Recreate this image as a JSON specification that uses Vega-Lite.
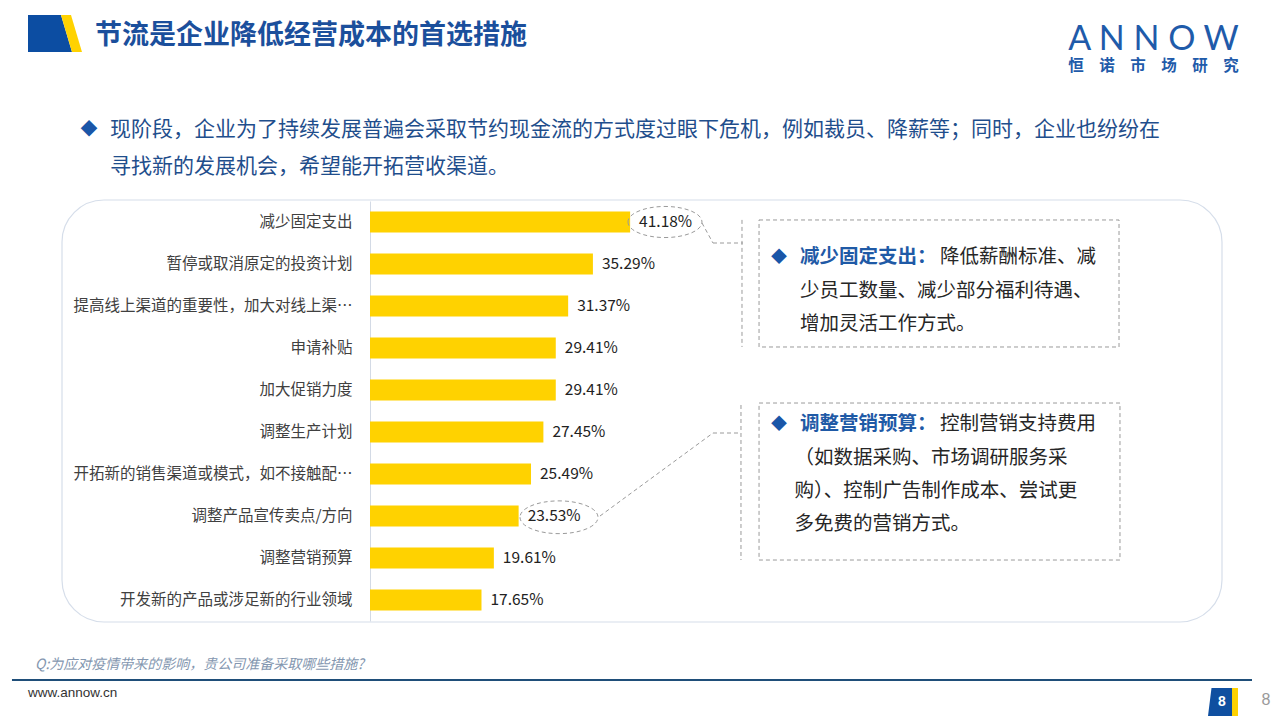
{
  "$schema": "https://vega.github.io/schema/vega-lite/v6.json",
  "width": 379,
  "height": 420,
  "autosize": {"type": "none"},
  "padding": {"left": 370, "top": 201, "right": 531, "bottom": 99},
  "background": "#ffffff",
  "config": {"view": {"stroke": null}, "font": "Noto Sans CJK SC"},
  "data": {
    "values": [
      {"measure": "减少固定支出", "pct": 0.4118},
      {"measure": "暂停或取消原定的投资计划", "pct": 0.3529},
      {"measure": "提高线上渠道的重要性，加大对线上渠…", "pct": 0.3137},
      {"measure": "申请补贴", "pct": 0.2941},
      {"measure": "加大促销力度", "pct": 0.2941},
      {"measure": "调整生产计划", "pct": 0.2745},
      {"measure": "开拓新的销售渠道或模式，如不接触配…", "pct": 0.2549},
      {"measure": "调整产品宣传卖点/方向", "pct": 0.2353},
      {"measure": "调整营销预算", "pct": 0.1961},
      {"measure": "开发新的产品或涉足新的行业领域", "pct": 0.1765}
    ]
  },
  "resolve": {"scale": {"y": "independent"}},
  "layer": [
    {
      "data": {"values": [{}]},
      "mark": {"type": "rect", "fill": "transparent", "stroke": "#d6deea", "strokeWidth": 1.2, "cornerRadius": 42},
      "encoding": {
        "x": {"datum": -0.4876, "type": "quantitative", "scale": {"domain": [0, 0.6], "nice": false, "zero": false}, "axis": null},
        "x2": {"datum": 1.3488},
        "y": {"datum": 0.476, "type": "quantitative", "scale": {"domain": [0.5, 10.5], "reverse": true, "nice": false, "zero": false}, "axis": null},
        "y2": {"datum": 10.524}
      }
    },
    {
      "mark": {"type": "bar", "color": "#FFD200"},
      "encoding": {
        "y": {
          "field": "measure", "type": "nominal", "sort": null,
          "scale": {"paddingInner": 0.5, "paddingOuter": 0.25},
          "axis": {"title": null, "ticks": false, "domain": true, "domainColor": "#d3dae5", "labelFontSize": 15.5, "labelColor": "#404040", "labelPadding": 18, "labelLimit": 340, "labelFont": "Noto Sans CJK SC", "grid": false}
        },
        "x": {"field": "pct", "type": "quantitative", "scale": {"domain": [0, 0.6], "nice": false, "zero": false}, "axis": null}
      }
    },
    {
      "mark": {"type": "text", "align": "left", "baseline": "middle", "dx": 9, "fontSize": 15.5, "color": "#222222", "font": "Noto Sans CJK SC"},
      "encoding": {
        "y": {"field": "measure", "type": "nominal", "sort": null, "scale": {"paddingInner": 0.5, "paddingOuter": 0.25}, "axis": null},
        "x": {"field": "pct", "type": "quantitative", "scale": {"domain": [0, 0.6], "nice": false, "zero": false}, "axis": null},
        "text": {"field": "pct", "type": "quantitative", "format": ".2%"}
      }
    },
    {
      "data": {"values": [{}]},
      "mark": {"type": "point", "shape": "M -1 0 A 1 0.42 0 1 0 1 0 A 1 0.42 0 1 0 -1 0 Z", "size": 5476, "filled": false, "stroke": "#9a9a9a", "strokeWidth": 1, "strokeDash": [4, 3], "opacity": 1},
      "encoding": {
        "x": {"datum": 0.4670, "type": "quantitative", "scale": {"domain": [0, 0.6], "nice": false, "zero": false}, "axis": null},
        "y": {"datum": 1.0, "type": "quantitative", "scale": {"domain": [0.5, 10.5], "reverse": true, "nice": false, "zero": false}, "axis": null}
      }
    },
    {
      "data": {"values": [{}]},
      "mark": {"type": "point", "shape": "M -1 0 A 1 0.42 0 1 0 1 0 A 1 0.42 0 1 0 -1 0 Z", "size": 6084, "filled": false, "stroke": "#9a9a9a", "strokeWidth": 1, "strokeDash": [4, 3], "opacity": 1},
      "encoding": {
        "x": {"datum": 0.2992, "type": "quantitative", "scale": {"domain": [0, 0.6], "nice": false, "zero": false}, "axis": null},
        "y": {"datum": 8.03, "type": "quantitative", "scale": {"domain": [0.5, 10.5], "reverse": true, "nice": false, "zero": false}, "axis": null}
      }
    },
    {
      "data": {"values": [{}]},
      "mark": {"type": "rule", "color": "#9a9a9a", "strokeWidth": 1, "strokeDash": [4, 3]},
      "encoding": {
        "x": {"datum": 0.5256, "type": "quantitative", "scale": {"domain": [0, 0.6], "nice": false, "zero": false}, "axis": null},
        "x2": {"datum": 0.5430},
        "y": {"datum": 1.024, "type": "quantitative", "scale": {"domain": [0.5, 10.5], "reverse": true, "nice": false, "zero": false}, "axis": null},
        "y2": {"datum": 1.500}
      }
    },
    {
      "data": {"values": [{}]},
      "mark": {"type": "rule", "color": "#9a9a9a", "strokeWidth": 1, "strokeDash": [4, 3]},
      "encoding": {
        "x": {"datum": 0.5430, "type": "quantitative", "scale": {"domain": [0, 0.6], "nice": false, "zero": false}, "axis": null},
        "x2": {"datum": 0.5905},
        "y": {"datum": 1.500, "type": "quantitative", "scale": {"domain": [0.5, 10.5], "reverse": true, "nice": false, "zero": false}, "axis": null},
        "y2": {"datum": 1.500}
      }
    },
    {
      "data": {"values": [{}]},
      "mark": {"type": "rule", "color": "#9a9a9a", "strokeWidth": 1, "strokeDash": [4, 3]},
      "encoding": {
        "x": {"datum": 0.3641, "type": "quantitative", "scale": {"domain": [0, 0.6], "nice": false, "zero": false}, "axis": null},
        "x2": {"datum": 0.5430},
        "y": {"datum": 8.0, "type": "quantitative", "scale": {"domain": [0.5, 10.5], "reverse": true, "nice": false, "zero": false}, "axis": null},
        "y2": {"datum": 6.024}
      }
    },
    {
      "data": {"values": [{}]},
      "mark": {"type": "rule", "color": "#9a9a9a", "strokeWidth": 1, "strokeDash": [4, 3]},
      "encoding": {
        "x": {"datum": 0.5430, "type": "quantitative", "scale": {"domain": [0, 0.6], "nice": false, "zero": false}, "axis": null},
        "x2": {"datum": 0.5873},
        "y": {"datum": 6.024, "type": "quantitative", "scale": {"domain": [0.5, 10.5], "reverse": true, "nice": false, "zero": false}, "axis": null},
        "y2": {"datum": 6.024}
      }
    },
    {
      "data": {"values": [{}]},
      "mark": {"type": "rule", "color": "#9a9a9a", "strokeWidth": 1, "strokeDash": [4, 3]},
      "encoding": {
        "x": {"datum": 0.5889, "type": "quantitative", "scale": {"domain": [0, 0.6], "nice": false, "zero": false}, "axis": null},
        "y": {"datum": 0.95, "type": "quantitative", "scale": {"domain": [0.5, 10.5], "reverse": true, "nice": false, "zero": false}, "axis": null},
        "y2": {"datum": 3.976}
      }
    },
    {
      "data": {"values": [{}]},
      "mark": {"type": "rule", "color": "#9a9a9a", "strokeWidth": 1, "strokeDash": [4, 3]},
      "encoding": {
        "x": {"datum": 0.5873, "type": "quantitative", "scale": {"domain": [0, 0.6], "nice": false, "zero": false}, "axis": null},
        "y": {"datum": 5.357, "type": "quantitative", "scale": {"domain": [0.5, 10.5], "reverse": true, "nice": false, "zero": false}, "axis": null},
        "y2": {"datum": 9.048}
      }
    },
    {
      "data": {"values": [{}]},
      "mark": {"type": "rect", "fill": "transparent", "stroke": "#9a9a9a", "strokeWidth": 1, "strokeDash": [4, 3]},
      "encoding": {
        "x": {"datum": 0.6159, "type": "quantitative", "scale": {"domain": [0, 0.6], "nice": false, "zero": false}, "axis": null},
        "x2": {"datum": 1.1858},
        "y": {"datum": 0.952, "type": "quantitative", "scale": {"domain": [0.5, 10.5], "reverse": true, "nice": false, "zero": false}, "axis": null},
        "y2": {"datum": 3.976}
      }
    },
    {
      "data": {"values": [{}]},
      "mark": {"type": "rect", "fill": "transparent", "stroke": "#9a9a9a", "strokeWidth": 1, "strokeDash": [4, 3]},
      "encoding": {
        "x": {"datum": 0.6159, "type": "quantitative", "scale": {"domain": [0, 0.6], "nice": false, "zero": false}, "axis": null},
        "x2": {"datum": 1.1873},
        "y": {"datum": 5.31, "type": "quantitative", "scale": {"domain": [0.5, 10.5], "reverse": true, "nice": false, "zero": false}, "axis": null},
        "y2": {"datum": 9.048}
      }
    },
    {
      "data": {"values": [{}]},
      "mark": {"type": "text", "align": "left", "baseline": "middle", "fontSize": 27, "fontWeight": "bold", "color": "#1B4F9C", "text": "节流是企业降低经营成本的首选措施"},
      "encoding": {
        "x": {"datum": -0.4354, "type": "quantitative", "scale": {"domain": [0, 0.6], "nice": false, "zero": false}, "axis": null},
        "y": {"datum": -3.429, "type": "quantitative", "scale": {"domain": [0.5, 10.5], "reverse": true, "nice": false, "zero": false}, "axis": null}
      }
    },
    {
      "data": {"values": [{}]},
      "mark": {"type": "text", "align": "center", "baseline": "middle", "fontSize": 17, "color": "#1A56A8", "text": "◆"},
      "encoding": {
        "x": {"datum": -0.4449, "type": "quantitative", "scale": {"domain": [0, 0.6], "nice": false, "zero": false}, "axis": null},
        "y": {"datum": -1.19, "type": "quantitative", "scale": {"domain": [0.5, 10.5], "reverse": true, "nice": false, "zero": false}, "axis": null}
      }
    },
    {
      "data": {"values": [{}]},
      "mark": {"type": "text", "align": "left", "baseline": "middle", "fontSize": 21, "lineHeight": 37, "color": "#1F4E8C", "text": ["现阶段，企业为了持续发展普遍会采取节约现金流的方式度过眼下危机，例如裁员、降薪等；同时，企业也纷纷在", "寻找新的发展机会，希望能开拓营收渠道。"]},
      "encoding": {
        "x": {"datum": -0.4116, "type": "quantitative", "scale": {"domain": [0, 0.6], "nice": false, "zero": false}, "axis": null},
        "y": {"datum": -1.19, "type": "quantitative", "scale": {"domain": [0.5, 10.5], "reverse": true, "nice": false, "zero": false}, "axis": null}
      }
    },
    {
      "data": {"values": [{}]},
      "mark": {"type": "text", "align": "center", "baseline": "middle", "fontSize": 16, "color": "#1A56A8", "text": "◆"},
      "encoding": {
        "x": {"datum": 0.6475, "type": "quantitative", "scale": {"domain": [0, 0.6], "nice": false, "zero": false}, "axis": null},
        "y": {"datum": 1.833, "type": "quantitative", "scale": {"domain": [0.5, 10.5], "reverse": true, "nice": false, "zero": false}, "axis": null}
      }
    },
    {
      "data": {"values": [{}]},
      "mark": {"type": "text", "align": "left", "baseline": "middle", "fontSize": 19.5, "fontWeight": "bold", "color": "#1F5AA6", "text": "减少固定支出："},
      "encoding": {
        "x": {"datum": 0.6807, "type": "quantitative", "scale": {"domain": [0, 0.6], "nice": false, "zero": false}, "axis": null},
        "y": {"datum": 1.833, "type": "quantitative", "scale": {"domain": [0.5, 10.5], "reverse": true, "nice": false, "zero": false}, "axis": null}
      }
    },
    {
      "data": {"values": [{}]},
      "mark": {"type": "text", "align": "left", "baseline": "middle", "fontSize": 19.5, "color": "#262626", "text": "降低薪酬标准、减"},
      "encoding": {
        "x": {"datum": 0.9024, "type": "quantitative", "scale": {"domain": [0, 0.6], "nice": false, "zero": false}, "axis": null},
        "y": {"datum": 1.833, "type": "quantitative", "scale": {"domain": [0.5, 10.5], "reverse": true, "nice": false, "zero": false}, "axis": null}
      }
    },
    {
      "data": {"values": [{}]},
      "mark": {"type": "text", "align": "left", "baseline": "middle", "fontSize": 19.5, "lineHeight": 33, "color": "#262626", "text": ["少员工数量、减少部分福利待遇、", "增加灵活工作方式。"]},
      "encoding": {
        "x": {"datum": 0.6807, "type": "quantitative", "scale": {"domain": [0, 0.6], "nice": false, "zero": false}, "axis": null},
        "y": {"datum": 2.643, "type": "quantitative", "scale": {"domain": [0.5, 10.5], "reverse": true, "nice": false, "zero": false}, "axis": null}
      }
    },
    {
      "data": {"values": [{}]},
      "mark": {"type": "text", "align": "center", "baseline": "middle", "fontSize": 16, "color": "#1A56A8", "text": "◆"},
      "encoding": {
        "x": {"datum": 0.6475, "type": "quantitative", "scale": {"domain": [0, 0.6], "nice": false, "zero": false}, "axis": null},
        "y": {"datum": 5.81, "type": "quantitative", "scale": {"domain": [0.5, 10.5], "reverse": true, "nice": false, "zero": false}, "axis": null}
      }
    },
    {
      "data": {"values": [{}]},
      "mark": {"type": "text", "align": "left", "baseline": "middle", "fontSize": 19.5, "fontWeight": "bold", "color": "#1F5AA6", "text": "调整营销预算："},
      "encoding": {
        "x": {"datum": 0.6807, "type": "quantitative", "scale": {"domain": [0, 0.6], "nice": false, "zero": false}, "axis": null},
        "y": {"datum": 5.81, "type": "quantitative", "scale": {"domain": [0.5, 10.5], "reverse": true, "nice": false, "zero": false}, "axis": null}
      }
    },
    {
      "data": {"values": [{}]},
      "mark": {"type": "text", "align": "left", "baseline": "middle", "fontSize": 19.5, "color": "#262626", "text": "控制营销支持费用"},
      "encoding": {
        "x": {"datum": 0.9024, "type": "quantitative", "scale": {"domain": [0, 0.6], "nice": false, "zero": false}, "axis": null},
        "y": {"datum": 5.81, "type": "quantitative", "scale": {"domain": [0.5, 10.5], "reverse": true, "nice": false, "zero": false}, "axis": null}
      }
    },
    {
      "data": {"values": [{}]},
      "mark": {"type": "text", "align": "left", "baseline": "middle", "fontSize": 19.5, "lineHeight": 33, "color": "#262626", "text": ["（如数据采购、市场调研服务采", "购）、控制广告制作成本、尝试更", "多免费的营销方式。"]},
      "encoding": {
        "x": {"datum": 0.6720, "type": "quantitative", "scale": {"domain": [0, 0.6], "nice": false, "zero": false}, "axis": null},
        "y": {"datum": 6.619, "type": "quantitative", "scale": {"domain": [0.5, 10.5], "reverse": true, "nice": false, "zero": false}, "axis": null}
      }
    },
    {
      "data": {"values": [{}]},
      "mark": {"type": "point", "shape": "M -0.963 -0.685 L 0.259 -0.685 L 0.667 0.685 L -0.963 0.685 Z", "size": 2916, "filled": true, "color": "#0C4DA2", "strokeWidth": 0, "opacity": 1},
      "encoding": {
        "x": {"datum": -0.5003, "type": "quantitative", "scale": {"domain": [0, 0.6], "nice": false, "zero": false}, "axis": null},
        "y": {"datum": -3.488, "type": "quantitative", "scale": {"domain": [0.5, 10.5], "reverse": true, "nice": false, "zero": false}, "axis": null}
      }
    },
    {
      "data": {"values": [{}]},
      "mark": {"type": "point", "shape": "M 0.259 -0.685 L 0.63 -0.685 L 1.037 0.685 L 0.667 0.685 Z", "size": 2916, "filled": true, "color": "#FFD200", "strokeWidth": 0, "opacity": 1},
      "encoding": {
        "x": {"datum": -0.5003, "type": "quantitative", "scale": {"domain": [0, 0.6], "nice": false, "zero": false}, "axis": null},
        "y": {"datum": -3.488, "type": "quantitative", "scale": {"domain": [0.5, 10.5], "reverse": true, "nice": false, "zero": false}, "axis": null}
      }
    },
    {
      "data": {"values": [{}]},
      "mark": {"type": "text", "align": "center", "baseline": "alphabetic", "fontSize": 34, "font": "Lato", "color": "#1F5BAA", "text": "A N N O W"},
      "encoding": {
        "x": {"datum": 1.2404, "type": "quantitative", "scale": {"domain": [0, 0.6], "nice": false, "zero": false}, "axis": null},
        "y": {"datum": -3.095, "type": "quantitative", "scale": {"domain": [0.5, 10.5], "reverse": true, "nice": false, "zero": false}, "axis": null}
      }
    },
    {
      "data": {"values": [{}]},
      "mark": {"type": "text", "align": "center", "baseline": "middle", "fontSize": 15.5, "fontWeight": "bold", "color": "#1F5BAA", "text": "恒　诺　市　场　研　究"},
      "encoding": {
        "x": {"datum": 1.2404, "type": "quantitative", "scale": {"domain": [0, 0.6], "nice": false, "zero": false}, "axis": null},
        "y": {"datum": -2.714, "type": "quantitative", "scale": {"domain": [0.5, 10.5], "reverse": true, "nice": false, "zero": false}, "axis": null}
      }
    },
    {
      "data": {"values": [{}]},
      "mark": {"type": "text", "align": "left", "baseline": "middle", "fontSize": 14, "fontStyle": "italic", "color": "#8497B0", "text": "Q:为应对疫情带来的影响，贵公司准备采取哪些措施?"},
      "encoding": {
        "x": {"datum": -0.5303, "type": "quantitative", "scale": {"domain": [0, 0.6], "nice": false, "zero": false}, "axis": null},
        "y": {"datum": 11.548, "type": "quantitative", "scale": {"domain": [0.5, 10.5], "reverse": true, "nice": false, "zero": false}, "axis": null}
      }
    },
    {
      "data": {"values": [{}]},
      "mark": {"type": "rule", "color": "#1F4E79", "strokeWidth": 2},
      "encoding": {
        "x": {"datum": -0.5668, "type": "quantitative", "scale": {"domain": [0, 0.6], "nice": false, "zero": false}, "axis": null},
        "x2": {"datum": 1.3963},
        "y": {"datum": 11.905, "type": "quantitative", "scale": {"domain": [0.5, 10.5], "reverse": true, "nice": false, "zero": false}, "axis": null}
      }
    },
    {
      "data": {"values": [{}]},
      "mark": {"type": "text", "align": "left", "baseline": "middle", "fontSize": 13.5, "font": "Liberation Sans", "color": "#333333", "text": "www.annow.cn"},
      "encoding": {
        "x": {"datum": -0.5414, "type": "quantitative", "scale": {"domain": [0, 0.6], "nice": false, "zero": false}, "axis": null},
        "y": {"datum": 12.214, "type": "quantitative", "scale": {"domain": [0.5, 10.5], "reverse": true, "nice": false, "zero": false}, "axis": null}
      }
    },
    {
      "data": {"values": [{}]},
      "mark": {"type": "point", "shape": "M -0.75 -1 L 0.75 -1 L 0.75 1 L -1 1 Z", "size": 784, "filled": true, "color": "#0F4FA0", "strokeWidth": 0, "opacity": 1},
      "encoding": {
        "x": {"datum": 1.3488, "type": "quantitative", "scale": {"domain": [0, 0.6], "nice": false, "zero": false}, "axis": null},
        "y": {"datum": 12.429, "type": "quantitative", "scale": {"domain": [0.5, 10.5], "reverse": true, "nice": false, "zero": false}, "axis": null}
      }
    },
    {
      "data": {"values": [{}]},
      "mark": {"type": "rect", "color": "#FFD200"},
      "encoding": {
        "x": {"datum": 1.3647, "type": "quantitative", "scale": {"domain": [0, 0.6], "nice": false, "zero": false}, "axis": null},
        "x2": {"datum": 1.3741},
        "y": {"datum": 12.095, "type": "quantitative", "scale": {"domain": [0.5, 10.5], "reverse": true, "nice": false, "zero": false}, "axis": null},
        "y2": {"datum": 12.762}
      }
    },
    {
      "data": {"values": [{}]},
      "mark": {"type": "text", "align": "center", "baseline": "middle", "fontSize": 14, "fontWeight": "bold", "font": "Liberation Sans", "color": "#ffffff", "text": "8"},
      "encoding": {
        "x": {"datum": 1.3488, "type": "quantitative", "scale": {"domain": [0, 0.6], "nice": false, "zero": false}, "axis": null},
        "y": {"datum": 12.429, "type": "quantitative", "scale": {"domain": [0.5, 10.5], "reverse": true, "nice": false, "zero": false}, "axis": null}
      }
    },
    {
      "data": {"values": [{}]},
      "mark": {"type": "text", "align": "center", "baseline": "middle", "fontSize": 16, "font": "Liberation Sans", "color": "#9a9a9a", "text": "8"},
      "encoding": {
        "x": {"datum": 1.4185, "type": "quantitative", "scale": {"domain": [0, 0.6], "nice": false, "zero": false}, "axis": null},
        "y": {"datum": 12.381, "type": "quantitative", "scale": {"domain": [0.5, 10.5], "reverse": true, "nice": false, "zero": false}, "axis": null}
      }
    }
  ]
}
